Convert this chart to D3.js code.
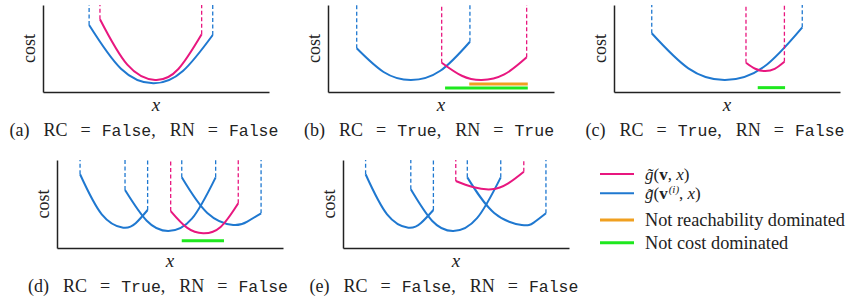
<!DOCTYPE html>
<html lang="en">
<head>
    <meta charset="UTF-8">
    <title>cost curves</title>
    <script src="https://d3js.org/d3.v7.min.js"></script>
    <style>
        body { margin: 0; background: white; }
        .serif { font-family: "Liberation Serif", "DejaVu Serif", serif; fill: #222; }
        .mono { font-family: "Liberation Mono", "DejaVu Sans Mono", monospace; font-size: 16.5px; }
        .axis path { stroke: #222; stroke-width: 1.5; }
    </style>
</head>
<body>
    <svg id="svg1" width="854" height="303"></svg>

    <script>
        // data (x, y in % of the panel's axes)-------------------------------
        const panelLabels = ["a", "b", "c", "d", "e"];
        const rcValues = ["False", "True", "True", "True", "False"];
        const rnValues = ["False", "True", "False", "False", "False"];

        const blueA = [[[20.4, 77], [34.5, 26.8], [48.8, 10], [61.9, 24.1], [75.1, 65.5]]];
        const pinkA = [[25.2, 83.6], [37.3, 31.4], [49.6, 13.8], [59.9, 26.4], [70.2, 66.3]];

        const blueB = [[[12.7, 50.2], [24.6, 23], [36.7, 13.8], [49.7, 24.4], [62.8, 57.8]]];
        const pinkB = [[50.3, 33.7], [59.2, 18.7], [68, 13.8], [78, 20.2], [87.9, 39.9]];
        const orangeB = [[62.5, 88.4, 9.2]];
        const greenB = [[51.8, 88.4, 4.6]];

        const blueC = [[[16.7, 67.5], [32.9, 27.2], [49.1, 13.8], [66.2, 28.7], [83.3, 74.4]]];
        const pinkC = [[58.4, 33.7], [62.5, 26.7], [66.8, 24.1], [71.1, 26.7], [75.4, 34.8]];
        const greenC = [[63.6, 75.7, 5]];

        const blueD = [
            [[10.2, 83.8], [19.8, 38.3], [29.3, 23.1], [34.8, 28.1], [40.1, 43.2]],
            [[30.1, 65.9], [39.7, 31], [49.2, 19.3], [59.7, 33.3], [70.2, 80.3]],
            [[55.2, 80.3], [66.5, 39.8], [78, 26.1], [84.2, 30.1], [90.3, 39.4]]
        ];
        const pinkD = [[50.3, 42], [57.5, 23.1], [64.7, 16.7], [72.4, 23.9], [80.2, 50.8]];
        const greenD = [[55.2, 73.9, 8.3]];

        const blueE = [
            [[10, 83.8], [19.5, 38.3], [28.9, 23.1], [34.5, 28.4], [40, 43.2]],
            [[30, 66.7], [39.4, 31], [48.8, 19.3], [59.3, 33.9], [69.8, 80.3]],
            [[55, 80.3], [66.9, 39.8], [79.1, 26.1], [84.4, 28.8], [89.8, 39.4]]
        ];
        const pinkE = [[49.9, 76.1], [57.4, 69.3], [65.8, 66.7], [73.1, 73.5], [80, 86.7]];

        const legendLabels = ["g̃(v, x)", "g̃(v(i), x)", "Not reachability dominated", "Not cost dominated"];

        // colours and layout-------------------------------------------------
        const pink = "#e8177f", blue = "#1f78d0", orange = "#f0a020", green = "#1ee81e";

        const panels = [
            {ox: 43, oy: 92, h: 87, blue: blueA, pink: pinkA, orange: [], green: []},
            {ox: 328, oy: 92, h: 87, blue: blueB, pink: pinkB, orange: orangeB, green: greenB},
            {ox: 614, oy: 92, h: 87, blue: blueC, pink: pinkC, orange: [], green: greenC},
            {ox: 57, oy: 248, h: 88, blue: blueD, pink: pinkD, orange: [], green: greenD},
            {ox: 343, oy: 248, h: 88, blue: blueE, pink: pinkE, orange: [], green: []}
        ];
        const panelWidth = 226;

        const svg1 = d3.select("svg#svg1");

        panels.forEach((p, i) => {
            const xScale = d3.scaleLinear().domain([0, 100]).range([0, panelWidth]);
            const yScale = d3.scaleLinear().domain([0, 100]).range([p.h, 0]);

            const g = svg1.append("g")
                .attr("transform", `translate(${p.ox},${p.oy - p.h})`);

            // axes, no ticks
            g.append("g").attr("class", "axis")
                .call(d3.axisLeft(yScale).ticks(0).tickSizeOuter(0));
            g.append("g").attr("class", "axis")
                .attr("transform", `translate(0,${p.h})`)
                .call(d3.axisBottom(xScale).ticks(0).tickSizeOuter(0));

            const lineGen = d3.line()
                .x(d => xScale(d[0]))
                .y(d => yScale(d[1]))
                .curve(d3.curveNatural);

            const drawCurve = function(pts, colour) {
                const first = pts[0], last = pts[pts.length - 1];
                [first, last].forEach(pt => {
                    g.append("line")
                        .attr("x1", xScale(pt[0])).attr("x2", xScale(pt[0]))
                        .attr("y1", yScale(pt[1])).attr("y2", yScale(100))
                        .attr("stroke", colour)
                        .attr("stroke-width", 1.3)
                        .attr("stroke-dasharray", "4,2.5");
                });
                g.append("path")
                    .attr("fill", "none")
                    .attr("stroke", colour)
                    .attr("stroke-width", 2)
                    .attr("d", lineGen(pts));
            };

            p.blue.forEach(c => drawCurve(c, blue));
            drawCurve(p.pink, pink);

            // intervals
            const drawBars = function(bars, colour) {
                g.selectAll(null)
                    .data(bars)
                    .join("line")
                    .attr("x1", d => xScale(d[0]))
                    .attr("x2", d => xScale(d[1]))
                    .attr("y1", d => yScale(d[2]))
                    .attr("y2", d => yScale(d[2]))
                    .attr("stroke", colour)
                    .attr("stroke-width", 3);
            };
            drawBars(p.orange, orange);
            drawBars(p.green, green);

            // labels
            g.append("text")
                .attr("class", "serif")
                .attr("font-family", "Liberation Serif")
                .attr("transform", `translate(-8,${p.h / 2}) rotate(-90)`)
                .attr("text-anchor", "middle")
                .style("font-size", "18px")
                .text("cost");

            g.append("text")
                .attr("class", "serif")
                .attr("x", 113)
                .attr("y", p.h + 19)
                .attr("text-anchor", "middle")
                .style("font-size", "19px")
                .style("font-style", "italic")
                .text("x");

            const cap = g.append("text")
                .attr("class", "serif")
                .attr("x", 101)
                .attr("y", p.h + 44)
                .attr("text-anchor", "middle")
                .style("font-size", "18px");
            cap.append("tspan").text(`(${panelLabels[i]})`);
            cap.append("tspan").attr("dx", 14).text("RC");
            cap.append("tspan").attr("dx", 13).text("=");
            cap.append("tspan").attr("dx", 11).attr("class", "mono").text(rcValues[i]);
            cap.append("tspan").text(",");
            cap.append("tspan").attr("dx", 14).text("RN");
            cap.append("tspan").attr("dx", 13).text("=");
            cap.append("tspan").attr("dx", 11).attr("class", "mono").text(rnValues[i]);
        });

        // legend---------------------------------------------------------------
        const legendY = [174, 193.3, 220, 242.7];
        const legendColours = [pink, blue, orange, green];
        const legend = svg1.append("g");

        legend.selectAll("line")
            .data(legendY)
            .join("line")
            .attr("x1", 600).attr("x2", 634)
            .attr("y1", d => d).attr("y2", d => d)
            .attr("stroke", (d, i) => legendColours[i])
            .attr("stroke-width", (d, i) => i < 2 ? 2 : 3);

        legendY.forEach((y, i) => {
            const t = legend.append("text")
                .attr("class", "serif")
                .attr("x", 645)
                .attr("y", y + 6)
                .style("font-size", i < 2 ? "17px" : "18.3px");
            if (i < 2) {
                t.append("tspan").style("font-style", "italic").text("g̃");
                t.append("tspan").text("(");
                t.append("tspan").style("font-weight", "bold").text("v");
                if (i === 1) {
                    t.append("tspan").attr("dy", -6).attr("dx", 1)
                        .style("font-size", "11px").style("font-style", "italic").text("(i)");
                    t.append("tspan").attr("dy", 6).text(", ");
                } else {
                    t.append("tspan").text(", ");
                }
                t.append("tspan").style("font-style", "italic").text("x");
                t.append("tspan").text(")");
            } else {
                t.text(legendLabels[i]);
            }
        });
    </script>
</body>
</html>
